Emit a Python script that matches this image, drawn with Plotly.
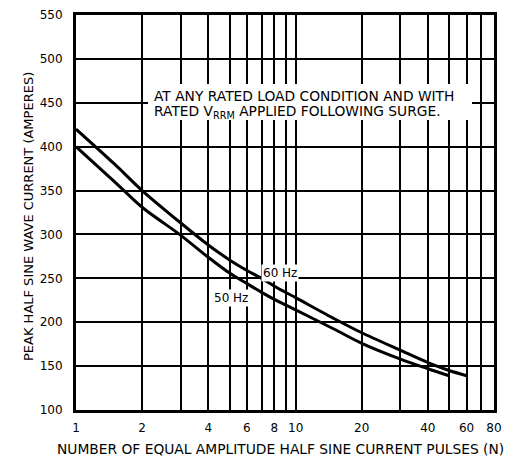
import plotly.graph_objects as go

# Data
n_60hz = [1, 1.5, 2, 3, 4, 5, 6, 7, 8, 10, 15, 20, 30, 40, 50, 60]
i_60hz = [420, 380, 350, 313, 288, 271, 259, 250, 241, 228, 204, 188, 168, 154, 145, 139]

n_50hz = [1, 1.5, 2, 3, 4, 5, 6, 7, 8, 10, 15, 20, 30, 40, 50]
i_50hz = [400, 360, 331, 299, 274, 256, 244, 234, 226, 214, 192, 176, 158, 147, 139]

x_ticks = [1, 2, 4, 6, 8, 10, 20, 40, 60, 80]
x_minor = [3, 5, 7, 9, 30, 50, 70]
y_ticks = [100, 150, 200, 250, 300, 350, 400, 450, 500, 550]

FONT = "DejaVu Sans, Verdana, sans-serif"

# page has an 8px body margin; work in window pixels
O = 8
W, H = 518 - O, 460 - O
PX0, PX1, PY0, PY1 = 76, 494, 15, 410          # plot area in window pixels
L, R, T, B = PX0 - O, (518 - O) - (PX1 - O), PY0 - O, (460 - O) - (PY1 - O)
PW, PH = PX1 - PX0, PY1 - PY0


def px(xw):
    return (xw - PX0) / PW


def py(yw):
    return 1 - (yw - PY0) / PH


fig = go.Figure()
fig.add_trace(go.Scatter(x=n_60hz, y=i_60hz, mode="lines", name="60 Hz",
                         line=dict(color="black", width=3, shape="spline", smoothing=0.8)))
fig.add_trace(go.Scatter(x=n_50hz, y=i_50hz, mode="lines", name="50 Hz",
                         line=dict(color="black", width=3, shape="spline", smoothing=0.8)))

fig.update_xaxes(
    type="log", range=[0, 1.90309], automargin=False,
    tickvals=x_ticks, ticktext=[str(v) for v in x_ticks],
    showgrid=True, gridcolor="black", gridwidth=1.6,
    minor=dict(tickvals=x_minor, showgrid=True, gridcolor="black", gridwidth=1.6, ticklen=0),
    showline=True, mirror=True, linecolor="black", linewidth=3,
    ticks="", ticklabelstandoff=5,
    tickfont=dict(family=FONT, size=12, color="black"),
    zeroline=False,
)
fig.update_yaxes(
    range=[100, 550], tickvals=y_ticks, automargin=False,
    showgrid=True, gridcolor="black", gridwidth=1.6,
    showline=True, mirror=True, linecolor="black", linewidth=3,
    ticks="", ticklabelstandoff=8,
    tickfont=dict(family=FONT, size=12, color="black"),
    zeroline=False,
)

# axis titles
fig.add_annotation(xref="paper", yref="paper", x=px(29), y=py(217),
                   textangle=-90, showarrow=False, xanchor="center", yanchor="middle",
                   text="PEAK HALF SINE WAVE CURRENT (AMPERES)",
                   font=dict(family=FONT, size=13, color="black"))
fig.add_annotation(xref="paper", yref="paper", x=px(280), y=py(449),
                   showarrow=False, xanchor="center", yanchor="middle",
                   text="NUMBER OF EQUAL AMPLITUDE HALF SINE CURRENT PULSES (N)",
                   font=dict(family=FONT, size=13.8, color="black"))

# white box behind the condition note
fig.add_shape(type="rect", xref="paper", yref="paper",
              x0=px(148), x1=px(472), y0=py(120), y1=py(84),
              fillcolor="white", line=dict(width=0), layer="above")
fig.add_annotation(xref="paper", yref="paper", x=px(152), y=py(96),
                   xanchor="left", yanchor="middle", showarrow=False,
                   text="AT ANY RATED LOAD CONDITION AND WITH",
                   font=dict(family=FONT, size=13.8, color="black"))
fig.add_annotation(xref="paper", yref="paper", x=px(152), y=py(112),
                   xanchor="left", yanchor="middle", showarrow=False,
                   text="RATED V<sub>RRM</sub> APPLIED FOLLOWING SURGE.",
                   font=dict(family=FONT, size=13.8, color="black"))

fig.add_annotation(x=0.93, y=256, xref="x", yref="y", showarrow=False,
                   text="60 Hz", font=dict(family=FONT, size=12, color="black"),
                   bgcolor="white", borderpad=1)
fig.add_annotation(x=0.705, y=228, xref="x", yref="y", showarrow=False,
                   text="50 Hz", font=dict(family=FONT, size=12, color="black"),
                   bgcolor="white", borderpad=1)

fig.update_layout(
    width=W, height=H,
    margin=dict(l=L, r=R, t=T, b=B),
    paper_bgcolor="white", plot_bgcolor="white",
    showlegend=False,
    font=dict(family=FONT, color="black"),
)

fig.write_html("out.html")
